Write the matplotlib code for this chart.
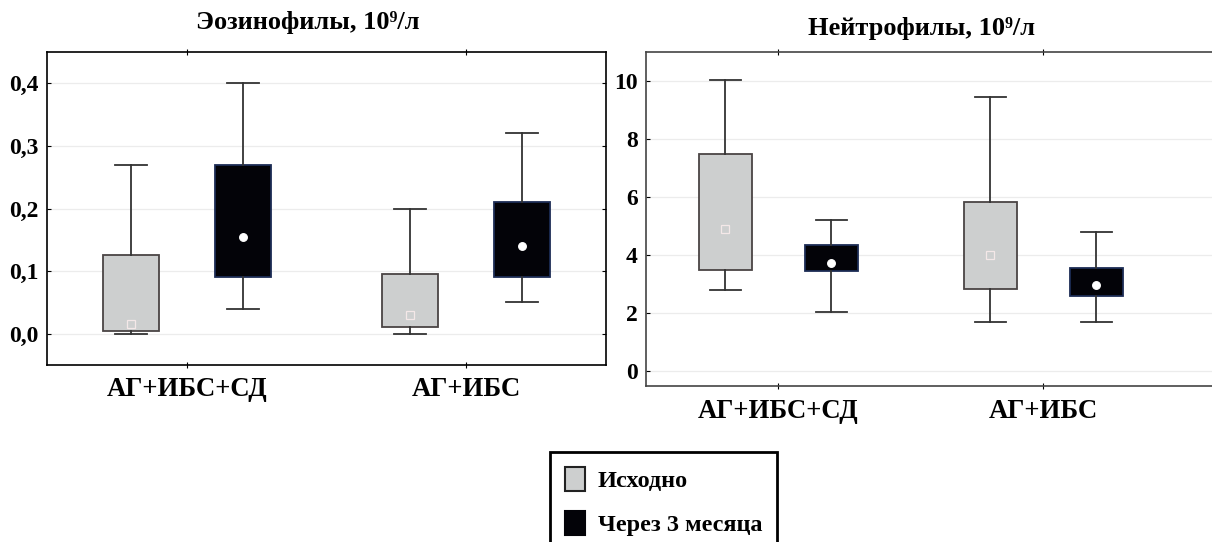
import numpy as np
import matplotlib
matplotlib.use("Agg")
import matplotlib.pyplot as plt
from matplotlib.patches import Patch

plt.rcParams['font.family'] = ['Liberation Serif', 'DejaVu Serif']
plt.rcParams['font.weight'] = 'bold'

groups = ["АГ+ИБС+СД", "АГ+ИБС"]
series = ["Исходно", "Через 3 месяца"]

# eosinophils: [group][series] -> whislo, q1, med, q3, whishi
eos_base = [[0.0, 0.005, 0.015, 0.125, 0.27], [0.0, 0.01, 0.03, 0.095, 0.20]]
eos_after = [[0.04, 0.09, 0.155, 0.27, 0.40], [0.05, 0.09, 0.14, 0.21, 0.32]]

# neutrophils
neu_base = [[2.8, 3.5, 4.9, 7.5, 10.05], [1.7, 2.85, 4.0, 5.85, 9.45]]
neu_after = [[2.05, 3.45, 3.75, 4.35, 5.2], [1.7, 2.6, 2.97, 3.55, 4.8]]

eos_ticks = [0.0, 0.1, 0.2, 0.3, 0.4]
eos_labels = ["0,0", "0,1", "0,2", "0,3", "0,4"]
neu_ticks = [0, 2, 4, 6, 8, 10]

gray = "#cdcfcf"
black = "#030308"


def to_stats(vals):
    lo, q1, med, q3, hi = vals
    return dict(whislo=lo, q1=q1, med=med, q3=q3, whishi=hi, fliers=[])


def draw(ax, base, after, capw):
    x = np.arange(len(groups))
    for data, off, fc, ec, mk, mfc, mec in [
        (base, -0.2, gray, "#4a4444", "s", gray, "#f4e8e8"),
        (after, 0.2, black, "#1c2c55", "o", "white", "white"),
    ]:
        stats = [to_stats(v) for v in data]
        ax.bxp(stats, positions=x + off, widths=0.2, capwidths=capw,
               patch_artist=True, showfliers=False,
               boxprops=dict(facecolor=fc, edgecolor=ec, linewidth=1.3),
               whiskerprops=dict(color="#333333", linewidth=1.3),
               capprops=dict(color="#333333", linewidth=1.3),
               medianprops=dict(linewidth=0))
        ax.plot(x + off, [v[2] for v in data], linestyle="none", marker=mk,
                markersize=5.5, markerfacecolor=mfc, markeredgecolor=mec,
                markeredgewidth=0.9, zorder=5)
    ax.set_xticks(x)
    ax.set_xticklabels(groups, fontsize=19.3)
    ax.grid(axis="y", color="#ececec", linewidth=0.9)
    ax.set_axisbelow(True)
    ax.tick_params(axis="y", direction="in", length=3, right=True, labelsize=17, pad=6)
    ax.tick_params(axis="x", direction="inout", length=4, top=True, pad=7)


fig = plt.figure(figsize=(12.12, 5.42), dpi=100)

ax1 = fig.add_axes([0.0388, 0.3266, 0.4612, 0.5774])
draw(ax1, eos_base, eos_after, 0.115)
ax1.set_xlim(-0.5, 1.5)
ax1.set_ylim(-0.05, 0.45)
ax1.set_yticks(eos_ticks)
ax1.set_yticklabels(eos_labels)
for s in ax1.spines.values():
    s.set_linewidth(1.2)

ax2 = fig.add_axes([0.533, 0.2878, 0.481, 0.6162])
draw(ax2, neu_base, neu_after, 0.12)
ax2.set_xlim(-0.5, 1.7)
ax2.set_ylim(-0.5, 11.0)
ax2.set_yticks(neu_ticks)
for s in ax2.spines.values():
    s.set_linewidth(1.2)
    s.set_color("#444444")

fig.text(308 / 1212, 1 - 22 / 542, "Эозинофилы, 10⁹/л", ha="center", va="center", fontsize=19)
fig.text(922 / 1212, 1 - 28 / 542, "Нейтрофилы, 10⁹/л", ha="center", va="center", fontsize=19)

handles = [Patch(facecolor=gray, edgecolor="#222222", linewidth=1.5),
           Patch(facecolor=black, edgecolor=black, linewidth=1.5)]
leg = fig.legend(handles, series, loc="upper left",
                 bbox_to_anchor=(550 / 1212, 1 - 452 / 542),
                 borderaxespad=0, fontsize=17.5, handlelength=0.82,
                 handleheight=1.15, labelspacing=0.78, handletextpad=0.55,
                 borderpad=0.6, fancybox=False, framealpha=1)
leg.get_frame().set_edgecolor("black")
leg.get_frame().set_linewidth(2.0)

fig.savefig("out.png", dpi=100)
